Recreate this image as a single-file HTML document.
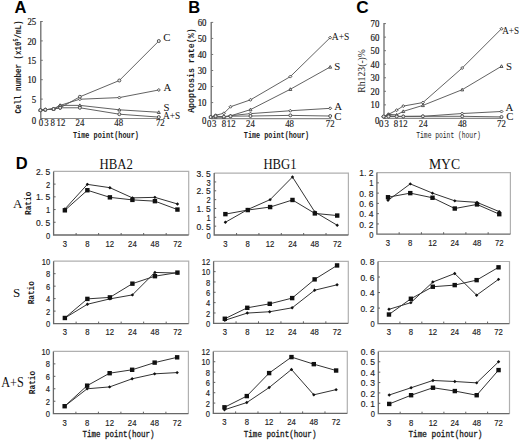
<!DOCTYPE html><html><head><meta charset="utf-8"><style>html,body{margin:0;padding:0;background:#fff;overflow:hidden}svg{display:block}</style></head><body>
<svg width="520" height="441" viewBox="0 0 520 441">
<rect width="520" height="441" fill="#fff"/>
<text x="14.40" y="12.90" font-size="16.5" font-family='"Liberation Sans", sans-serif' font-weight="bold" text-anchor="start" fill="#000" >A</text>
<line x1="40.8" y1="21.0" x2="40.8" y2="119.0" stroke="#6a6a6a" stroke-width="1.3"/>
<line x1="40.8" y1="118.5" x2="159.8" y2="118.5" stroke="#8a8a8a" stroke-width="1.1"/>
<line x1="40.8" y1="118.50" x2="42.8" y2="118.50" stroke="#6a6a6a" stroke-width="0.9"/>
<text x="36.20" y="123.70" font-size="9.8" font-family='"Liberation Serif", serif' font-weight="normal" text-anchor="end" fill="#1a1a1a" textLength="4.4" lengthAdjust="spacingAndGlyphs" stroke="#1a1a1a" stroke-width="0.2">0</text>
<line x1="40.8" y1="99.10" x2="42.8" y2="99.10" stroke="#6a6a6a" stroke-width="0.9"/>
<text x="36.20" y="102.70" font-size="9.8" font-family='"Liberation Serif", serif' font-weight="normal" text-anchor="end" fill="#1a1a1a" textLength="4.4" lengthAdjust="spacingAndGlyphs" stroke="#1a1a1a" stroke-width="0.2">5</text>
<line x1="40.8" y1="79.70" x2="42.8" y2="79.70" stroke="#6a6a6a" stroke-width="0.9"/>
<text x="36.20" y="83.30" font-size="9.8" font-family='"Liberation Serif", serif' font-weight="normal" text-anchor="end" fill="#1a1a1a" textLength="8.8" lengthAdjust="spacingAndGlyphs" stroke="#1a1a1a" stroke-width="0.2">10</text>
<line x1="40.8" y1="60.30" x2="42.8" y2="60.30" stroke="#6a6a6a" stroke-width="0.9"/>
<text x="36.20" y="63.90" font-size="9.8" font-family='"Liberation Serif", serif' font-weight="normal" text-anchor="end" fill="#1a1a1a" textLength="8.8" lengthAdjust="spacingAndGlyphs" stroke="#1a1a1a" stroke-width="0.2">15</text>
<line x1="40.8" y1="40.90" x2="42.8" y2="40.90" stroke="#6a6a6a" stroke-width="0.9"/>
<text x="36.20" y="44.50" font-size="9.8" font-family='"Liberation Serif", serif' font-weight="normal" text-anchor="end" fill="#1a1a1a" textLength="8.8" lengthAdjust="spacingAndGlyphs" stroke="#1a1a1a" stroke-width="0.2">20</text>
<line x1="40.8" y1="21.50" x2="42.8" y2="21.50" stroke="#6a6a6a" stroke-width="0.9"/>
<text x="36.20" y="25.10" font-size="9.8" font-family='"Liberation Serif", serif' font-weight="normal" text-anchor="end" fill="#1a1a1a" textLength="8.8" lengthAdjust="spacingAndGlyphs" stroke="#1a1a1a" stroke-width="0.2">25</text>
<text x="41.00" y="126.40" font-size="10" font-family='"Liberation Serif", serif' font-weight="normal" text-anchor="middle" fill="#1a1a1a" textLength="4.4" lengthAdjust="spacingAndGlyphs" stroke="#1a1a1a" stroke-width="0.15">0</text>
<text x="46.50" y="126.40" font-size="10" font-family='"Liberation Serif", serif' font-weight="normal" text-anchor="middle" fill="#1a1a1a" textLength="4.4" lengthAdjust="spacingAndGlyphs" stroke="#1a1a1a" stroke-width="0.15">3</text>
<text x="52.80" y="126.40" font-size="10" font-family='"Liberation Serif", serif' font-weight="normal" text-anchor="middle" fill="#1a1a1a" textLength="4.4" lengthAdjust="spacingAndGlyphs" stroke="#1a1a1a" stroke-width="0.15">8</text>
<text x="60.90" y="126.40" font-size="10" font-family='"Liberation Serif", serif' font-weight="normal" text-anchor="middle" fill="#1a1a1a" textLength="8.8" lengthAdjust="spacingAndGlyphs" stroke="#1a1a1a" stroke-width="0.15">12</text>
<text x="79.90" y="126.40" font-size="10" font-family='"Liberation Serif", serif' font-weight="normal" text-anchor="middle" fill="#1a1a1a" textLength="8.8" lengthAdjust="spacingAndGlyphs" stroke="#1a1a1a" stroke-width="0.15">24</text>
<text x="118.70" y="126.40" font-size="10" font-family='"Liberation Serif", serif' font-weight="normal" text-anchor="middle" fill="#1a1a1a" textLength="8.8" lengthAdjust="spacingAndGlyphs" stroke="#1a1a1a" stroke-width="0.15">48</text>
<text x="160.30" y="126.40" font-size="10" font-family='"Liberation Serif", serif' font-weight="normal" text-anchor="middle" fill="#1a1a1a" textLength="8.8" lengthAdjust="spacingAndGlyphs" stroke="#1a1a1a" stroke-width="0.15">72</text>
<path d="M40.40 110.20L45.33 109.69L53.56 108.99L60.13 107.79L79.87 96.81L119.33 80.51L158.80 41.02" fill="none" stroke="#5a5a5a" stroke-width="0.95"/>
<circle cx="40.40" cy="110.20" r="1.5" fill="#e8e8e8" stroke="#444" stroke-width="0.9"/>
<circle cx="45.33" cy="109.69" r="1.5" fill="#e8e8e8" stroke="#444" stroke-width="0.9"/>
<circle cx="53.56" cy="108.99" r="1.5" fill="#e8e8e8" stroke="#444" stroke-width="0.9"/>
<circle cx="60.13" cy="107.79" r="1.5" fill="#e8e8e8" stroke="#444" stroke-width="0.9"/>
<circle cx="79.87" cy="96.81" r="1.5" fill="#e8e8e8" stroke="#444" stroke-width="0.9"/>
<circle cx="119.33" cy="80.51" r="1.5" fill="#e8e8e8" stroke="#444" stroke-width="0.9"/>
<circle cx="158.80" cy="41.02" r="1.5" fill="#e8e8e8" stroke="#444" stroke-width="0.9"/>
<path d="M40.40 110.20L45.33 109.69L53.56 108.99L60.13 105.39L79.87 99.22L119.33 97.59L158.80 89.98" fill="none" stroke="#5a5a5a" stroke-width="0.95"/>
<path d="M40.40 108.70L41.90 110.20L40.40 111.70L38.90 110.20Z" fill="#e8e8e8" stroke="#444" stroke-width="0.9"/>
<path d="M45.33 108.19L46.83 109.69L45.33 111.19L43.83 109.69Z" fill="#e8e8e8" stroke="#444" stroke-width="0.9"/>
<path d="M53.56 107.49L55.06 108.99L53.56 110.49L52.06 108.99Z" fill="#e8e8e8" stroke="#444" stroke-width="0.9"/>
<path d="M60.13 103.89L61.63 105.39L60.13 106.89L58.63 105.39Z" fill="#e8e8e8" stroke="#444" stroke-width="0.9"/>
<path d="M79.87 97.72L81.37 99.22L79.87 100.72L78.37 99.22Z" fill="#e8e8e8" stroke="#444" stroke-width="0.9"/>
<path d="M119.33 96.09L120.83 97.59L119.33 99.09L117.83 97.59Z" fill="#e8e8e8" stroke="#444" stroke-width="0.9"/>
<path d="M158.80 88.48L160.30 89.98L158.80 91.48L157.30 89.98Z" fill="#e8e8e8" stroke="#444" stroke-width="0.9"/>
<path d="M40.40 110.20L45.33 109.69L53.56 108.99L60.13 105.39L79.87 105.39L119.33 109.81L158.80 112.29" fill="none" stroke="#5a5a5a" stroke-width="0.95"/>
<path d="M40.40 108.70L41.90 111.40L38.90 111.40Z" fill="#e8e8e8" stroke="#444" stroke-width="0.9"/>
<path d="M45.33 108.19L46.83 110.89L43.83 110.89Z" fill="#e8e8e8" stroke="#444" stroke-width="0.9"/>
<path d="M53.56 107.49L55.06 110.19L52.06 110.19Z" fill="#e8e8e8" stroke="#444" stroke-width="0.9"/>
<path d="M60.13 103.89L61.63 106.59L58.63 106.59Z" fill="#e8e8e8" stroke="#444" stroke-width="0.9"/>
<path d="M79.87 103.89L81.37 106.59L78.37 106.59Z" fill="#e8e8e8" stroke="#444" stroke-width="0.9"/>
<path d="M119.33 108.31L120.83 111.01L117.83 111.01Z" fill="#e8e8e8" stroke="#444" stroke-width="0.9"/>
<path d="M158.80 110.79L160.30 113.49L157.30 113.49Z" fill="#e8e8e8" stroke="#444" stroke-width="0.9"/>
<path d="M40.40 110.20L45.33 109.69L53.56 108.99L60.13 107.79L79.87 107.79L119.33 114.19L158.80 117.10" fill="none" stroke="#5a5a5a" stroke-width="0.95"/>
<circle cx="40.40" cy="110.20" r="1.5" fill="#e8e8e8" stroke="#444" stroke-width="0.9"/>
<circle cx="45.33" cy="109.69" r="1.5" fill="#e8e8e8" stroke="#444" stroke-width="0.9"/>
<circle cx="53.56" cy="108.99" r="1.5" fill="#e8e8e8" stroke="#444" stroke-width="0.9"/>
<circle cx="60.13" cy="107.79" r="1.5" fill="#e8e8e8" stroke="#444" stroke-width="0.9"/>
<circle cx="79.87" cy="107.79" r="1.5" fill="#e8e8e8" stroke="#444" stroke-width="0.9"/>
<circle cx="119.33" cy="114.19" r="1.5" fill="#e8e8e8" stroke="#444" stroke-width="0.9"/>
<circle cx="158.80" cy="117.10" r="1.5" fill="#e8e8e8" stroke="#444" stroke-width="0.9"/>
<text x="163.20" y="40.80" font-size="10.8" font-family='"Liberation Serif", serif' font-weight="normal" text-anchor="start" fill="#111" >C</text>
<text x="163.60" y="91.00" font-size="10.8" font-family='"Liberation Serif", serif' font-weight="normal" text-anchor="start" fill="#111" >A</text>
<text x="163.60" y="110.50" font-size="10.8" font-family='"Liberation Serif", serif' font-weight="normal" text-anchor="start" fill="#111" >S</text>
<text x="163.00" y="119.20" font-size="10.8" font-family='"Liberation Serif", serif' font-weight="normal" text-anchor="start" fill="#111" textLength="17.2" lengthAdjust="spacingAndGlyphs" >A+S</text>
<text x="21.00" y="67.00" font-size="9.8" font-family='"Liberation Mono", monospace' font-weight="bold" text-anchor="middle" fill="#1a1a1a" textLength="93" lengthAdjust="spacingAndGlyphs" transform="rotate(-90 21.00 67.00)" >Cell number (x10<tspan font-size="6.5" dy="-3.2">5</tspan><tspan dy="3.2">/mL)</tspan></text>
<text x="106.00" y="137.60" font-size="8.8" font-family='"Liberation Mono", monospace' font-weight="bold" text-anchor="middle" fill="#1a1a1a" textLength="66" lengthAdjust="spacingAndGlyphs" >Time point(hour)</text>
<text x="188.20" y="12.90" font-size="16.5" font-family='"Liberation Sans", sans-serif' font-weight="bold" text-anchor="start" fill="#000" >B</text>
<line x1="211.2" y1="21.9" x2="211.2" y2="119.1" stroke="#6a6a6a" stroke-width="1.3"/>
<line x1="211.2" y1="118.6" x2="331.2" y2="118.6" stroke="#8a8a8a" stroke-width="1.1"/>
<line x1="211.2" y1="118.60" x2="213.2" y2="118.60" stroke="#6a6a6a" stroke-width="0.9"/>
<text x="206.50" y="123.80" font-size="9.8" font-family='"Liberation Serif", serif' font-weight="normal" text-anchor="end" fill="#1a1a1a" textLength="4.4" lengthAdjust="spacingAndGlyphs" stroke="#1a1a1a" stroke-width="0.2">0</text>
<line x1="211.2" y1="102.57" x2="213.2" y2="102.57" stroke="#6a6a6a" stroke-width="0.9"/>
<text x="206.50" y="106.17" font-size="9.8" font-family='"Liberation Serif", serif' font-weight="normal" text-anchor="end" fill="#1a1a1a" textLength="8.8" lengthAdjust="spacingAndGlyphs" stroke="#1a1a1a" stroke-width="0.2">10</text>
<line x1="211.2" y1="86.53" x2="213.2" y2="86.53" stroke="#6a6a6a" stroke-width="0.9"/>
<text x="206.50" y="90.13" font-size="9.8" font-family='"Liberation Serif", serif' font-weight="normal" text-anchor="end" fill="#1a1a1a" textLength="8.8" lengthAdjust="spacingAndGlyphs" stroke="#1a1a1a" stroke-width="0.2">20</text>
<line x1="211.2" y1="70.50" x2="213.2" y2="70.50" stroke="#6a6a6a" stroke-width="0.9"/>
<text x="206.50" y="74.10" font-size="9.8" font-family='"Liberation Serif", serif' font-weight="normal" text-anchor="end" fill="#1a1a1a" textLength="8.8" lengthAdjust="spacingAndGlyphs" stroke="#1a1a1a" stroke-width="0.2">30</text>
<line x1="211.2" y1="54.47" x2="213.2" y2="54.47" stroke="#6a6a6a" stroke-width="0.9"/>
<text x="206.50" y="58.07" font-size="9.8" font-family='"Liberation Serif", serif' font-weight="normal" text-anchor="end" fill="#1a1a1a" textLength="8.8" lengthAdjust="spacingAndGlyphs" stroke="#1a1a1a" stroke-width="0.2">40</text>
<line x1="211.2" y1="38.43" x2="213.2" y2="38.43" stroke="#6a6a6a" stroke-width="0.9"/>
<text x="206.50" y="42.03" font-size="9.8" font-family='"Liberation Serif", serif' font-weight="normal" text-anchor="end" fill="#1a1a1a" textLength="8.8" lengthAdjust="spacingAndGlyphs" stroke="#1a1a1a" stroke-width="0.2">50</text>
<line x1="211.2" y1="22.40" x2="213.2" y2="22.40" stroke="#6a6a6a" stroke-width="0.9"/>
<text x="206.50" y="26.00" font-size="9.8" font-family='"Liberation Serif", serif' font-weight="normal" text-anchor="end" fill="#1a1a1a" textLength="8.8" lengthAdjust="spacingAndGlyphs" stroke="#1a1a1a" stroke-width="0.2">60</text>
<text x="209.20" y="127.30" font-size="10" font-family='"Liberation Serif", serif' font-weight="normal" text-anchor="middle" fill="#1a1a1a" textLength="4.4" lengthAdjust="spacingAndGlyphs" stroke="#1a1a1a" stroke-width="0.15">0</text>
<text x="214.30" y="127.30" font-size="10" font-family='"Liberation Serif", serif' font-weight="normal" text-anchor="middle" fill="#1a1a1a" textLength="4.4" lengthAdjust="spacingAndGlyphs" stroke="#1a1a1a" stroke-width="0.15">3</text>
<text x="224.00" y="127.30" font-size="10" font-family='"Liberation Serif", serif' font-weight="normal" text-anchor="middle" fill="#1a1a1a" textLength="4.4" lengthAdjust="spacingAndGlyphs" stroke="#1a1a1a" stroke-width="0.15">8</text>
<text x="231.20" y="127.30" font-size="10" font-family='"Liberation Serif", serif' font-weight="normal" text-anchor="middle" fill="#1a1a1a" textLength="8.8" lengthAdjust="spacingAndGlyphs" stroke="#1a1a1a" stroke-width="0.15">12</text>
<text x="250.50" y="127.30" font-size="10" font-family='"Liberation Serif", serif' font-weight="normal" text-anchor="middle" fill="#1a1a1a" textLength="8.8" lengthAdjust="spacingAndGlyphs" stroke="#1a1a1a" stroke-width="0.15">24</text>
<text x="289.60" y="127.30" font-size="10" font-family='"Liberation Serif", serif' font-weight="normal" text-anchor="middle" fill="#1a1a1a" textLength="8.8" lengthAdjust="spacingAndGlyphs" stroke="#1a1a1a" stroke-width="0.15">48</text>
<text x="330.20" y="127.30" font-size="10" font-family='"Liberation Serif", serif' font-weight="normal" text-anchor="middle" fill="#1a1a1a" textLength="8.8" lengthAdjust="spacingAndGlyphs" stroke="#1a1a1a" stroke-width="0.15">72</text>
<path d="M210.60 117.00L215.58 115.23L223.89 113.31L230.53 106.74L250.47 99.84L290.33 76.59L330.20 37.63" fill="none" stroke="#5a5a5a" stroke-width="0.95"/>
<path d="M210.60 115.50L212.10 117.00L210.60 118.50L209.10 117.00Z" fill="#e8e8e8" stroke="#444" stroke-width="0.9"/>
<path d="M215.58 113.73L217.08 115.23L215.58 116.73L214.08 115.23Z" fill="#e8e8e8" stroke="#444" stroke-width="0.9"/>
<path d="M223.89 111.81L225.39 113.31L223.89 114.81L222.39 113.31Z" fill="#e8e8e8" stroke="#444" stroke-width="0.9"/>
<path d="M230.53 105.24L232.03 106.74L230.53 108.24L229.03 106.74Z" fill="#e8e8e8" stroke="#444" stroke-width="0.9"/>
<path d="M250.47 98.34L251.97 99.84L250.47 101.34L248.97 99.84Z" fill="#e8e8e8" stroke="#444" stroke-width="0.9"/>
<path d="M290.33 75.09L291.83 76.59L290.33 78.09L288.83 76.59Z" fill="#e8e8e8" stroke="#444" stroke-width="0.9"/>
<path d="M330.20 36.13L331.70 37.63L330.20 39.13L328.70 37.63Z" fill="#e8e8e8" stroke="#444" stroke-width="0.9"/>
<path d="M210.60 117.00L215.58 117.00L223.89 117.32L230.53 115.87L250.47 109.62L290.33 89.26L330.20 66.97" fill="none" stroke="#5a5a5a" stroke-width="0.95"/>
<path d="M210.60 115.50L212.10 118.20L209.10 118.20Z" fill="#e8e8e8" stroke="#444" stroke-width="0.9"/>
<path d="M215.58 115.50L217.08 118.20L214.08 118.20Z" fill="#e8e8e8" stroke="#444" stroke-width="0.9"/>
<path d="M223.89 115.82L225.39 118.52L222.39 118.52Z" fill="#e8e8e8" stroke="#444" stroke-width="0.9"/>
<path d="M230.53 114.37L232.03 117.07L229.03 117.07Z" fill="#e8e8e8" stroke="#444" stroke-width="0.9"/>
<path d="M250.47 108.12L251.97 110.82L248.97 110.82Z" fill="#e8e8e8" stroke="#444" stroke-width="0.9"/>
<path d="M290.33 87.76L291.83 90.46L288.83 90.46Z" fill="#e8e8e8" stroke="#444" stroke-width="0.9"/>
<path d="M330.20 65.47L331.70 68.17L328.70 68.17Z" fill="#e8e8e8" stroke="#444" stroke-width="0.9"/>
<path d="M210.60 117.00L215.58 116.68L223.89 116.68L230.53 115.71L250.47 113.63L290.33 110.74L330.20 108.34" fill="none" stroke="#5a5a5a" stroke-width="0.95"/>
<path d="M210.60 115.50L212.10 117.00L210.60 118.50L209.10 117.00Z" fill="#e8e8e8" stroke="#444" stroke-width="0.9"/>
<path d="M215.58 115.18L217.08 116.68L215.58 118.18L214.08 116.68Z" fill="#e8e8e8" stroke="#444" stroke-width="0.9"/>
<path d="M223.89 115.18L225.39 116.68L223.89 118.18L222.39 116.68Z" fill="#e8e8e8" stroke="#444" stroke-width="0.9"/>
<path d="M230.53 114.21L232.03 115.71L230.53 117.21L229.03 115.71Z" fill="#e8e8e8" stroke="#444" stroke-width="0.9"/>
<path d="M250.47 112.13L251.97 113.63L250.47 115.13L248.97 113.63Z" fill="#e8e8e8" stroke="#444" stroke-width="0.9"/>
<path d="M290.33 109.24L291.83 110.74L290.33 112.24L288.83 110.74Z" fill="#e8e8e8" stroke="#444" stroke-width="0.9"/>
<path d="M330.20 106.84L331.70 108.34L330.20 109.84L328.70 108.34Z" fill="#e8e8e8" stroke="#444" stroke-width="0.9"/>
<path d="M210.60 117.00L215.58 116.19L223.89 116.68L230.53 116.19L250.47 116.03L290.33 115.39L330.20 116.03" fill="none" stroke="#5a5a5a" stroke-width="0.95"/>
<circle cx="210.60" cy="117.00" r="1.5" fill="#e8e8e8" stroke="#444" stroke-width="0.9"/>
<circle cx="215.58" cy="116.19" r="1.5" fill="#e8e8e8" stroke="#444" stroke-width="0.9"/>
<circle cx="223.89" cy="116.68" r="1.5" fill="#e8e8e8" stroke="#444" stroke-width="0.9"/>
<circle cx="230.53" cy="116.19" r="1.5" fill="#e8e8e8" stroke="#444" stroke-width="0.9"/>
<circle cx="250.47" cy="116.03" r="1.5" fill="#e8e8e8" stroke="#444" stroke-width="0.9"/>
<circle cx="290.33" cy="115.39" r="1.5" fill="#e8e8e8" stroke="#444" stroke-width="0.9"/>
<circle cx="330.20" cy="116.03" r="1.5" fill="#e8e8e8" stroke="#444" stroke-width="0.9"/>
<text x="331.80" y="40.00" font-size="10.8" font-family='"Liberation Serif", serif' font-weight="normal" text-anchor="start" fill="#111" textLength="17.6" lengthAdjust="spacingAndGlyphs" >A+S</text>
<text x="334.20" y="69.50" font-size="10.8" font-family='"Liberation Serif", serif' font-weight="normal" text-anchor="start" fill="#111" >S</text>
<text x="334.20" y="110.20" font-size="10.8" font-family='"Liberation Serif", serif' font-weight="normal" text-anchor="start" fill="#111" >A</text>
<text x="334.20" y="120.20" font-size="10.8" font-family='"Liberation Serif", serif' font-weight="normal" text-anchor="start" fill="#111" >C</text>
<text x="194.00" y="70.60" font-size="9.6" font-family='"Liberation Mono", monospace' font-weight="bold" text-anchor="middle" fill="#1a1a1a" textLength="84.5" lengthAdjust="spacingAndGlyphs" transform="rotate(-90 194.00 70.60)" >Apoptosis rate(%)</text>
<text x="276.50" y="138.20" font-size="8.8" font-family='"Liberation Mono", monospace' font-weight="bold" text-anchor="middle" fill="#1a1a1a" textLength="65.4" lengthAdjust="spacingAndGlyphs" >Time point(hour)</text>
<text x="356.30" y="12.90" font-size="17.2" font-family='"Liberation Sans", sans-serif' font-weight="bold" text-anchor="start" fill="#000" >C</text>
<line x1="384.0" y1="23.1" x2="384.0" y2="118.9" stroke="#6a6a6a" stroke-width="1.3"/>
<line x1="384.0" y1="118.4" x2="502.5" y2="118.4" stroke="#8a8a8a" stroke-width="1.1"/>
<line x1="384.0" y1="118.40" x2="386.0" y2="118.40" stroke="#6a6a6a" stroke-width="0.9"/>
<text x="379.40" y="123.60" font-size="9.8" font-family='"Liberation Serif", serif' font-weight="normal" text-anchor="end" fill="#1a1a1a" textLength="4.4" lengthAdjust="spacingAndGlyphs" stroke="#1a1a1a" stroke-width="0.2">0</text>
<line x1="384.0" y1="104.86" x2="386.0" y2="104.86" stroke="#6a6a6a" stroke-width="0.9"/>
<text x="379.40" y="108.46" font-size="9.8" font-family='"Liberation Serif", serif' font-weight="normal" text-anchor="end" fill="#1a1a1a" textLength="8.8" lengthAdjust="spacingAndGlyphs" stroke="#1a1a1a" stroke-width="0.2">10</text>
<line x1="384.0" y1="91.31" x2="386.0" y2="91.31" stroke="#6a6a6a" stroke-width="0.9"/>
<text x="379.40" y="94.91" font-size="9.8" font-family='"Liberation Serif", serif' font-weight="normal" text-anchor="end" fill="#1a1a1a" textLength="8.8" lengthAdjust="spacingAndGlyphs" stroke="#1a1a1a" stroke-width="0.2">20</text>
<line x1="384.0" y1="77.77" x2="386.0" y2="77.77" stroke="#6a6a6a" stroke-width="0.9"/>
<text x="379.40" y="81.37" font-size="9.8" font-family='"Liberation Serif", serif' font-weight="normal" text-anchor="end" fill="#1a1a1a" textLength="8.8" lengthAdjust="spacingAndGlyphs" stroke="#1a1a1a" stroke-width="0.2">30</text>
<line x1="384.0" y1="64.23" x2="386.0" y2="64.23" stroke="#6a6a6a" stroke-width="0.9"/>
<text x="379.40" y="67.83" font-size="9.8" font-family='"Liberation Serif", serif' font-weight="normal" text-anchor="end" fill="#1a1a1a" textLength="8.8" lengthAdjust="spacingAndGlyphs" stroke="#1a1a1a" stroke-width="0.2">40</text>
<line x1="384.0" y1="50.69" x2="386.0" y2="50.69" stroke="#6a6a6a" stroke-width="0.9"/>
<text x="379.40" y="54.29" font-size="9.8" font-family='"Liberation Serif", serif' font-weight="normal" text-anchor="end" fill="#1a1a1a" textLength="8.8" lengthAdjust="spacingAndGlyphs" stroke="#1a1a1a" stroke-width="0.2">50</text>
<line x1="384.0" y1="37.14" x2="386.0" y2="37.14" stroke="#6a6a6a" stroke-width="0.9"/>
<text x="379.40" y="40.74" font-size="9.8" font-family='"Liberation Serif", serif' font-weight="normal" text-anchor="end" fill="#1a1a1a" textLength="8.8" lengthAdjust="spacingAndGlyphs" stroke="#1a1a1a" stroke-width="0.2">60</text>
<line x1="384.0" y1="23.60" x2="386.0" y2="23.60" stroke="#6a6a6a" stroke-width="0.9"/>
<text x="379.40" y="27.20" font-size="9.8" font-family='"Liberation Serif", serif' font-weight="normal" text-anchor="end" fill="#1a1a1a" textLength="8.8" lengthAdjust="spacingAndGlyphs" stroke="#1a1a1a" stroke-width="0.2">70</text>
<text x="381.20" y="127.30" font-size="10" font-family='"Liberation Serif", serif' font-weight="normal" text-anchor="middle" fill="#1a1a1a" textLength="4.4" lengthAdjust="spacingAndGlyphs" stroke="#1a1a1a" stroke-width="0.15">0</text>
<text x="386.80" y="127.30" font-size="10" font-family='"Liberation Serif", serif' font-weight="normal" text-anchor="middle" fill="#1a1a1a" textLength="4.4" lengthAdjust="spacingAndGlyphs" stroke="#1a1a1a" stroke-width="0.15">3</text>
<text x="396.00" y="127.30" font-size="10" font-family='"Liberation Serif", serif' font-weight="normal" text-anchor="middle" fill="#1a1a1a" textLength="4.4" lengthAdjust="spacingAndGlyphs" stroke="#1a1a1a" stroke-width="0.15">8</text>
<text x="403.20" y="127.30" font-size="10" font-family='"Liberation Serif", serif' font-weight="normal" text-anchor="middle" fill="#1a1a1a" textLength="8.8" lengthAdjust="spacingAndGlyphs" stroke="#1a1a1a" stroke-width="0.15">12</text>
<text x="423.20" y="127.30" font-size="10" font-family='"Liberation Serif", serif' font-weight="normal" text-anchor="middle" fill="#1a1a1a" textLength="8.8" lengthAdjust="spacingAndGlyphs" stroke="#1a1a1a" stroke-width="0.15">24</text>
<text x="462.30" y="127.30" font-size="10" font-family='"Liberation Serif", serif' font-weight="normal" text-anchor="middle" fill="#1a1a1a" textLength="8.8" lengthAdjust="spacingAndGlyphs" stroke="#1a1a1a" stroke-width="0.15">48</text>
<text x="501.50" y="127.30" font-size="10" font-family='"Liberation Serif", serif' font-weight="normal" text-anchor="middle" fill="#1a1a1a" textLength="8.8" lengthAdjust="spacingAndGlyphs" stroke="#1a1a1a" stroke-width="0.15">72</text>
<path d="M383.60 116.50L388.51 114.34L396.70 110.14L403.25 106.08L422.90 102.55L462.20 68.02L501.50 28.75" fill="none" stroke="#5a5a5a" stroke-width="0.95"/>
<path d="M383.60 115.00L385.10 116.50L383.60 118.00L382.10 116.50Z" fill="#e8e8e8" stroke="#444" stroke-width="0.9"/>
<path d="M388.51 112.84L390.01 114.34L388.51 115.84L387.01 114.34Z" fill="#e8e8e8" stroke="#444" stroke-width="0.9"/>
<path d="M396.70 108.64L398.20 110.14L396.70 111.64L395.20 110.14Z" fill="#e8e8e8" stroke="#444" stroke-width="0.9"/>
<path d="M403.25 104.58L404.75 106.08L403.25 107.58L401.75 106.08Z" fill="#e8e8e8" stroke="#444" stroke-width="0.9"/>
<path d="M422.90 101.05L424.40 102.55L422.90 104.05L421.40 102.55Z" fill="#e8e8e8" stroke="#444" stroke-width="0.9"/>
<path d="M462.20 66.52L463.70 68.02L462.20 69.52L460.70 68.02Z" fill="#e8e8e8" stroke="#444" stroke-width="0.9"/>
<path d="M501.50 27.25L503.00 28.75L501.50 30.25L500.00 28.75Z" fill="#e8e8e8" stroke="#444" stroke-width="0.9"/>
<path d="M383.60 116.50L388.51 114.34L396.70 114.88L403.25 111.36L422.90 105.40L462.20 89.69L501.50 66.26" fill="none" stroke="#5a5a5a" stroke-width="0.95"/>
<path d="M383.60 115.00L385.10 117.70L382.10 117.70Z" fill="#e8e8e8" stroke="#444" stroke-width="0.9"/>
<path d="M388.51 112.84L390.01 115.54L387.01 115.54Z" fill="#e8e8e8" stroke="#444" stroke-width="0.9"/>
<path d="M396.70 113.38L398.20 116.08L395.20 116.08Z" fill="#e8e8e8" stroke="#444" stroke-width="0.9"/>
<path d="M403.25 109.86L404.75 112.56L401.75 112.56Z" fill="#e8e8e8" stroke="#444" stroke-width="0.9"/>
<path d="M422.90 103.90L424.40 106.60L421.40 106.60Z" fill="#e8e8e8" stroke="#444" stroke-width="0.9"/>
<path d="M462.20 88.19L463.70 90.89L460.70 90.89Z" fill="#e8e8e8" stroke="#444" stroke-width="0.9"/>
<path d="M501.50 64.76L503.00 67.46L500.00 67.46Z" fill="#e8e8e8" stroke="#444" stroke-width="0.9"/>
<path d="M383.60 116.50L388.51 115.69L396.70 116.30L403.25 116.30L422.90 116.30L462.20 113.52L501.50 111.49" fill="none" stroke="#5a5a5a" stroke-width="0.95"/>
<path d="M383.60 115.00L385.10 116.50L383.60 118.00L382.10 116.50Z" fill="#e8e8e8" stroke="#444" stroke-width="0.9"/>
<path d="M388.51 114.19L390.01 115.69L388.51 117.19L387.01 115.69Z" fill="#e8e8e8" stroke="#444" stroke-width="0.9"/>
<path d="M396.70 114.80L398.20 116.30L396.70 117.80L395.20 116.30Z" fill="#e8e8e8" stroke="#444" stroke-width="0.9"/>
<path d="M403.25 114.80L404.75 116.30L403.25 117.80L401.75 116.30Z" fill="#e8e8e8" stroke="#444" stroke-width="0.9"/>
<path d="M422.90 114.80L424.40 116.30L422.90 117.80L421.40 116.30Z" fill="#e8e8e8" stroke="#444" stroke-width="0.9"/>
<path d="M462.20 112.02L463.70 113.52L462.20 115.02L460.70 113.52Z" fill="#e8e8e8" stroke="#444" stroke-width="0.9"/>
<path d="M501.50 109.99L503.00 111.49L501.50 112.99L500.00 111.49Z" fill="#e8e8e8" stroke="#444" stroke-width="0.9"/>
<path d="M383.60 116.50L388.51 116.50L396.70 116.50L403.25 116.50L422.90 116.30L462.20 116.30L501.50 116.91" fill="none" stroke="#5a5a5a" stroke-width="0.95"/>
<circle cx="383.60" cy="116.50" r="1.5" fill="#e8e8e8" stroke="#444" stroke-width="0.9"/>
<circle cx="388.51" cy="116.50" r="1.5" fill="#e8e8e8" stroke="#444" stroke-width="0.9"/>
<circle cx="396.70" cy="116.50" r="1.5" fill="#e8e8e8" stroke="#444" stroke-width="0.9"/>
<circle cx="403.25" cy="116.50" r="1.5" fill="#e8e8e8" stroke="#444" stroke-width="0.9"/>
<circle cx="422.90" cy="116.30" r="1.5" fill="#e8e8e8" stroke="#444" stroke-width="0.9"/>
<circle cx="462.20" cy="116.30" r="1.5" fill="#e8e8e8" stroke="#444" stroke-width="0.9"/>
<circle cx="501.50" cy="116.91" r="1.5" fill="#e8e8e8" stroke="#444" stroke-width="0.9"/>
<text x="502.20" y="34.00" font-size="10.8" font-family='"Liberation Serif", serif' font-weight="normal" text-anchor="start" fill="#111" textLength="16.8" lengthAdjust="spacingAndGlyphs" >A+S</text>
<text x="506.00" y="69.80" font-size="10.8" font-family='"Liberation Serif", serif' font-weight="normal" text-anchor="start" fill="#111" >S</text>
<text x="505.60" y="111.20" font-size="10.8" font-family='"Liberation Serif", serif' font-weight="normal" text-anchor="start" fill="#111" >A</text>
<text x="506.20" y="119.60" font-size="10.8" font-family='"Liberation Serif", serif' font-weight="normal" text-anchor="start" fill="#111" >C</text>
<text x="365.40" y="70.90" font-size="10" font-family='"Liberation Serif", serif' font-weight="normal" text-anchor="middle" fill="#1a1a1a" textLength="43.7" lengthAdjust="spacingAndGlyphs" transform="rotate(-90 365.40 70.90)" >Rh123(-)%</text>
<text x="448.50" y="138.20" font-size="8.8" font-family='"Liberation Mono", monospace' font-weight="normal" text-anchor="middle" fill="#1a1a1a" textLength="64.5" lengthAdjust="spacingAndGlyphs" >Time point (hour)</text>
<text x="15.80" y="168.80" font-size="16.5" font-family='"Liberation Sans", sans-serif' font-weight="bold" text-anchor="start" fill="#000" >D</text>
<path d="M53.6 171.4H188.7V235.0" fill="none" stroke="#b0b0b0" stroke-width="1.2"/>
<path d="M53.6 171.4V235.0H188.7" fill="none" stroke="#686868" stroke-width="1.3"/>
<text x="50.20" y="238.60" font-size="8.4" font-family='"Liberation Sans", sans-serif' font-weight="normal" text-anchor="end" fill="#1a1a1a" textLength="4.2" lengthAdjust="spacingAndGlyphs" stroke="#1a1a1a" stroke-width="0.15">0</text>
<line x1="53.6" y1="222.28" x2="55.6" y2="222.28" stroke="#606060" stroke-width="1"/>
<text x="50.20" y="225.88" font-size="8.4" font-family='"Liberation Sans", sans-serif' font-weight="normal" text-anchor="end" fill="#1a1a1a" textLength="14.2" lengthAdjust="spacingAndGlyphs" stroke="#1a1a1a" stroke-width="0.15">0. 5</text>
<line x1="53.6" y1="209.56" x2="55.6" y2="209.56" stroke="#606060" stroke-width="1"/>
<text x="50.20" y="213.16" font-size="8.4" font-family='"Liberation Sans", sans-serif' font-weight="normal" text-anchor="end" fill="#1a1a1a" textLength="4.2" lengthAdjust="spacingAndGlyphs" stroke="#1a1a1a" stroke-width="0.15">1</text>
<line x1="53.6" y1="196.84" x2="55.6" y2="196.84" stroke="#606060" stroke-width="1"/>
<text x="50.20" y="200.44" font-size="8.4" font-family='"Liberation Sans", sans-serif' font-weight="normal" text-anchor="end" fill="#1a1a1a" textLength="14.2" lengthAdjust="spacingAndGlyphs" stroke="#1a1a1a" stroke-width="0.15">1. 5</text>
<line x1="53.6" y1="184.12" x2="55.6" y2="184.12" stroke="#606060" stroke-width="1"/>
<text x="50.20" y="187.72" font-size="8.4" font-family='"Liberation Sans", sans-serif' font-weight="normal" text-anchor="end" fill="#1a1a1a" textLength="4.2" lengthAdjust="spacingAndGlyphs" stroke="#1a1a1a" stroke-width="0.15">2</text>
<text x="50.20" y="175.00" font-size="8.4" font-family='"Liberation Sans", sans-serif' font-weight="normal" text-anchor="end" fill="#1a1a1a" textLength="14.2" lengthAdjust="spacingAndGlyphs" stroke="#1a1a1a" stroke-width="0.15">2. 5</text>
<line x1="76.12" y1="235.0" x2="76.12" y2="233.0" stroke="#606060" stroke-width="1"/>
<line x1="98.63" y1="235.0" x2="98.63" y2="233.0" stroke="#606060" stroke-width="1"/>
<line x1="121.15" y1="235.0" x2="121.15" y2="233.0" stroke="#606060" stroke-width="1"/>
<line x1="143.67" y1="235.0" x2="143.67" y2="233.0" stroke="#606060" stroke-width="1"/>
<line x1="166.18" y1="235.0" x2="166.18" y2="233.0" stroke="#606060" stroke-width="1"/>
<text x="64.86" y="246.80" font-size="8.4" font-family='"Liberation Sans", sans-serif' font-weight="normal" text-anchor="middle" fill="#1a1a1a" textLength="4.3" lengthAdjust="spacingAndGlyphs" stroke="#1a1a1a" stroke-width="0.15">3</text>
<text x="87.38" y="246.80" font-size="8.4" font-family='"Liberation Sans", sans-serif' font-weight="normal" text-anchor="middle" fill="#1a1a1a" textLength="4.3" lengthAdjust="spacingAndGlyphs" stroke="#1a1a1a" stroke-width="0.15">8</text>
<text x="109.89" y="246.80" font-size="8.4" font-family='"Liberation Sans", sans-serif' font-weight="normal" text-anchor="middle" fill="#1a1a1a" textLength="8.6" lengthAdjust="spacingAndGlyphs" stroke="#1a1a1a" stroke-width="0.15">12</text>
<text x="132.41" y="246.80" font-size="8.4" font-family='"Liberation Sans", sans-serif' font-weight="normal" text-anchor="middle" fill="#1a1a1a" textLength="8.6" lengthAdjust="spacingAndGlyphs" stroke="#1a1a1a" stroke-width="0.15">24</text>
<text x="154.92" y="246.80" font-size="8.4" font-family='"Liberation Sans", sans-serif' font-weight="normal" text-anchor="middle" fill="#1a1a1a" textLength="8.6" lengthAdjust="spacingAndGlyphs" stroke="#1a1a1a" stroke-width="0.15">48</text>
<text x="177.44" y="246.80" font-size="8.4" font-family='"Liberation Sans", sans-serif' font-weight="normal" text-anchor="middle" fill="#1a1a1a" textLength="8.6" lengthAdjust="spacingAndGlyphs" stroke="#1a1a1a" stroke-width="0.15">72</text>
<path d="M64.86 209.05L87.38 184.37L109.89 187.68L132.41 197.86L154.92 197.35L177.44 203.96" fill="none" stroke="#333" stroke-width="1"/>
<path d="M64.86 207.35L66.56 209.05L64.86 210.75L63.16 209.05Z" fill="#111"/>
<path d="M87.38 182.67L89.08 184.37L87.38 186.07L85.67 184.37Z" fill="#111"/>
<path d="M109.89 185.98L111.59 187.68L109.89 189.38L108.19 187.68Z" fill="#111"/>
<path d="M132.41 196.16L134.11 197.86L132.41 199.56L130.71 197.86Z" fill="#111"/>
<path d="M154.92 195.65L156.62 197.35L154.92 199.05L153.22 197.35Z" fill="#111"/>
<path d="M177.44 202.26L179.14 203.96L177.44 205.66L175.74 203.96Z" fill="#111"/>
<path d="M64.86 210.32L87.38 190.23L109.89 197.35L132.41 199.89L154.92 201.16L177.44 209.56" fill="none" stroke="#333" stroke-width="1"/>
<rect x="62.66" y="208.12" width="4.4" height="4.4" fill="#111"/>
<rect x="85.17" y="188.03" width="4.4" height="4.4" fill="#111"/>
<rect x="107.69" y="195.15" width="4.4" height="4.4" fill="#111"/>
<rect x="130.21" y="197.69" width="4.4" height="4.4" fill="#111"/>
<rect x="152.72" y="198.96" width="4.4" height="4.4" fill="#111"/>
<rect x="175.24" y="207.36" width="4.4" height="4.4" fill="#111"/>
<text x="116.30" y="168.60" font-size="13.6" font-family='"Liberation Serif", serif' font-weight="normal" text-anchor="middle" fill="#111" textLength="33.4" lengthAdjust="spacingAndGlyphs" >HBA2</text>
<text x="30.60" y="203.30" font-size="8.4" font-family='"Liberation Mono", monospace' font-weight="bold" text-anchor="middle" fill="#1a1a1a" textLength="23.3" lengthAdjust="spacingAndGlyphs" transform="rotate(-90 30.60 203.30)" >Ratio</text>
<path d="M214.2 173.1H348.4V235.0" fill="none" stroke="#b0b0b0" stroke-width="1.2"/>
<path d="M214.2 173.1V235.0H348.4" fill="none" stroke="#686868" stroke-width="1.3"/>
<text x="210.80" y="238.60" font-size="8.4" font-family='"Liberation Sans", sans-serif' font-weight="normal" text-anchor="end" fill="#1a1a1a" textLength="4.2" lengthAdjust="spacingAndGlyphs" stroke="#1a1a1a" stroke-width="0.15">0</text>
<line x1="214.2" y1="226.16" x2="216.2" y2="226.16" stroke="#606060" stroke-width="1"/>
<text x="210.80" y="229.76" font-size="8.4" font-family='"Liberation Sans", sans-serif' font-weight="normal" text-anchor="end" fill="#1a1a1a" textLength="14.2" lengthAdjust="spacingAndGlyphs" stroke="#1a1a1a" stroke-width="0.15">0. 5</text>
<line x1="214.2" y1="217.31" x2="216.2" y2="217.31" stroke="#606060" stroke-width="1"/>
<text x="210.80" y="220.91" font-size="8.4" font-family='"Liberation Sans", sans-serif' font-weight="normal" text-anchor="end" fill="#1a1a1a" textLength="4.2" lengthAdjust="spacingAndGlyphs" stroke="#1a1a1a" stroke-width="0.15">1</text>
<line x1="214.2" y1="208.47" x2="216.2" y2="208.47" stroke="#606060" stroke-width="1"/>
<text x="210.80" y="212.07" font-size="8.4" font-family='"Liberation Sans", sans-serif' font-weight="normal" text-anchor="end" fill="#1a1a1a" textLength="14.2" lengthAdjust="spacingAndGlyphs" stroke="#1a1a1a" stroke-width="0.15">1. 5</text>
<line x1="214.2" y1="199.63" x2="216.2" y2="199.63" stroke="#606060" stroke-width="1"/>
<text x="210.80" y="203.23" font-size="8.4" font-family='"Liberation Sans", sans-serif' font-weight="normal" text-anchor="end" fill="#1a1a1a" textLength="4.2" lengthAdjust="spacingAndGlyphs" stroke="#1a1a1a" stroke-width="0.15">2</text>
<line x1="214.2" y1="190.79" x2="216.2" y2="190.79" stroke="#606060" stroke-width="1"/>
<text x="210.80" y="194.39" font-size="8.4" font-family='"Liberation Sans", sans-serif' font-weight="normal" text-anchor="end" fill="#1a1a1a" textLength="14.2" lengthAdjust="spacingAndGlyphs" stroke="#1a1a1a" stroke-width="0.15">2. 5</text>
<line x1="214.2" y1="181.94" x2="216.2" y2="181.94" stroke="#606060" stroke-width="1"/>
<text x="210.80" y="185.54" font-size="8.4" font-family='"Liberation Sans", sans-serif' font-weight="normal" text-anchor="end" fill="#1a1a1a" textLength="4.2" lengthAdjust="spacingAndGlyphs" stroke="#1a1a1a" stroke-width="0.15">3</text>
<text x="210.80" y="176.70" font-size="8.4" font-family='"Liberation Sans", sans-serif' font-weight="normal" text-anchor="end" fill="#1a1a1a" textLength="14.2" lengthAdjust="spacingAndGlyphs" stroke="#1a1a1a" stroke-width="0.15">3. 5</text>
<line x1="236.57" y1="235.0" x2="236.57" y2="233.0" stroke="#606060" stroke-width="1"/>
<line x1="258.93" y1="235.0" x2="258.93" y2="233.0" stroke="#606060" stroke-width="1"/>
<line x1="281.30" y1="235.0" x2="281.30" y2="233.0" stroke="#606060" stroke-width="1"/>
<line x1="303.67" y1="235.0" x2="303.67" y2="233.0" stroke="#606060" stroke-width="1"/>
<line x1="326.03" y1="235.0" x2="326.03" y2="233.0" stroke="#606060" stroke-width="1"/>
<text x="225.38" y="246.80" font-size="8.4" font-family='"Liberation Sans", sans-serif' font-weight="normal" text-anchor="middle" fill="#1a1a1a" textLength="4.3" lengthAdjust="spacingAndGlyphs" stroke="#1a1a1a" stroke-width="0.15">3</text>
<text x="247.75" y="246.80" font-size="8.4" font-family='"Liberation Sans", sans-serif' font-weight="normal" text-anchor="middle" fill="#1a1a1a" textLength="4.3" lengthAdjust="spacingAndGlyphs" stroke="#1a1a1a" stroke-width="0.15">8</text>
<text x="270.12" y="246.80" font-size="8.4" font-family='"Liberation Sans", sans-serif' font-weight="normal" text-anchor="middle" fill="#1a1a1a" textLength="8.6" lengthAdjust="spacingAndGlyphs" stroke="#1a1a1a" stroke-width="0.15">12</text>
<text x="292.48" y="246.80" font-size="8.4" font-family='"Liberation Sans", sans-serif' font-weight="normal" text-anchor="middle" fill="#1a1a1a" textLength="8.6" lengthAdjust="spacingAndGlyphs" stroke="#1a1a1a" stroke-width="0.15">24</text>
<text x="314.85" y="246.80" font-size="8.4" font-family='"Liberation Sans", sans-serif' font-weight="normal" text-anchor="middle" fill="#1a1a1a" textLength="8.6" lengthAdjust="spacingAndGlyphs" stroke="#1a1a1a" stroke-width="0.15">48</text>
<text x="337.22" y="246.80" font-size="8.4" font-family='"Liberation Sans", sans-serif' font-weight="normal" text-anchor="middle" fill="#1a1a1a" textLength="8.6" lengthAdjust="spacingAndGlyphs" stroke="#1a1a1a" stroke-width="0.15">72</text>
<path d="M225.38 222.27L247.75 209.53L270.12 199.63L292.48 176.99L314.85 212.01L337.22 225.27" fill="none" stroke="#333" stroke-width="1"/>
<path d="M225.38 220.57L227.08 222.27L225.38 223.97L223.68 222.27Z" fill="#111"/>
<path d="M247.75 207.83L249.45 209.53L247.75 211.23L246.05 209.53Z" fill="#111"/>
<path d="M270.12 197.93L271.82 199.63L270.12 201.33L268.42 199.63Z" fill="#111"/>
<path d="M292.48 175.29L294.18 176.99L292.48 178.69L290.78 176.99Z" fill="#111"/>
<path d="M314.85 210.31L316.55 212.01L314.85 213.71L313.15 212.01Z" fill="#111"/>
<path d="M337.22 223.57L338.92 225.27L337.22 226.97L335.52 225.27Z" fill="#111"/>
<path d="M225.38 214.13L247.75 210.06L270.12 207.06L292.48 199.98L314.85 213.42L337.22 215.55" fill="none" stroke="#333" stroke-width="1"/>
<rect x="223.18" y="211.93" width="4.4" height="4.4" fill="#111"/>
<rect x="245.55" y="207.86" width="4.4" height="4.4" fill="#111"/>
<rect x="267.92" y="204.86" width="4.4" height="4.4" fill="#111"/>
<rect x="290.28" y="197.78" width="4.4" height="4.4" fill="#111"/>
<rect x="312.65" y="211.22" width="4.4" height="4.4" fill="#111"/>
<rect x="335.02" y="213.35" width="4.4" height="4.4" fill="#111"/>
<text x="280.00" y="168.60" font-size="13.6" font-family='"Liberation Serif", serif' font-weight="normal" text-anchor="middle" fill="#111" textLength="33.2" lengthAdjust="spacingAndGlyphs" >HBG1</text>
<path d="M376.9 172.6H510.4V234.2" fill="none" stroke="#b0b0b0" stroke-width="1.2"/>
<path d="M376.9 172.6V234.2H510.4" fill="none" stroke="#686868" stroke-width="1.3"/>
<text x="373.50" y="237.80" font-size="8.4" font-family='"Liberation Sans", sans-serif' font-weight="normal" text-anchor="end" fill="#1a1a1a" textLength="4.2" lengthAdjust="spacingAndGlyphs" stroke="#1a1a1a" stroke-width="0.15">0</text>
<line x1="376.9" y1="223.93" x2="378.9" y2="223.93" stroke="#606060" stroke-width="1"/>
<text x="373.50" y="227.53" font-size="8.4" font-family='"Liberation Sans", sans-serif' font-weight="normal" text-anchor="end" fill="#1a1a1a" textLength="14.2" lengthAdjust="spacingAndGlyphs" stroke="#1a1a1a" stroke-width="0.15">0. 2</text>
<line x1="376.9" y1="213.67" x2="378.9" y2="213.67" stroke="#606060" stroke-width="1"/>
<text x="373.50" y="217.27" font-size="8.4" font-family='"Liberation Sans", sans-serif' font-weight="normal" text-anchor="end" fill="#1a1a1a" textLength="14.2" lengthAdjust="spacingAndGlyphs" stroke="#1a1a1a" stroke-width="0.15">0. 4</text>
<line x1="376.9" y1="203.40" x2="378.9" y2="203.40" stroke="#606060" stroke-width="1"/>
<text x="373.50" y="207.00" font-size="8.4" font-family='"Liberation Sans", sans-serif' font-weight="normal" text-anchor="end" fill="#1a1a1a" textLength="14.2" lengthAdjust="spacingAndGlyphs" stroke="#1a1a1a" stroke-width="0.15">0. 6</text>
<line x1="376.9" y1="193.13" x2="378.9" y2="193.13" stroke="#606060" stroke-width="1"/>
<text x="373.50" y="196.73" font-size="8.4" font-family='"Liberation Sans", sans-serif' font-weight="normal" text-anchor="end" fill="#1a1a1a" textLength="14.2" lengthAdjust="spacingAndGlyphs" stroke="#1a1a1a" stroke-width="0.15">0. 8</text>
<line x1="376.9" y1="182.87" x2="378.9" y2="182.87" stroke="#606060" stroke-width="1"/>
<text x="373.50" y="186.47" font-size="8.4" font-family='"Liberation Sans", sans-serif' font-weight="normal" text-anchor="end" fill="#1a1a1a" textLength="4.2" lengthAdjust="spacingAndGlyphs" stroke="#1a1a1a" stroke-width="0.15">1</text>
<text x="373.50" y="176.20" font-size="8.4" font-family='"Liberation Sans", sans-serif' font-weight="normal" text-anchor="end" fill="#1a1a1a" textLength="14.2" lengthAdjust="spacingAndGlyphs" stroke="#1a1a1a" stroke-width="0.15">1. 2</text>
<line x1="399.15" y1="234.2" x2="399.15" y2="232.2" stroke="#606060" stroke-width="1"/>
<line x1="421.40" y1="234.2" x2="421.40" y2="232.2" stroke="#606060" stroke-width="1"/>
<line x1="443.65" y1="234.2" x2="443.65" y2="232.2" stroke="#606060" stroke-width="1"/>
<line x1="465.90" y1="234.2" x2="465.90" y2="232.2" stroke="#606060" stroke-width="1"/>
<line x1="488.15" y1="234.2" x2="488.15" y2="232.2" stroke="#606060" stroke-width="1"/>
<text x="388.02" y="246.00" font-size="8.4" font-family='"Liberation Sans", sans-serif' font-weight="normal" text-anchor="middle" fill="#1a1a1a" textLength="4.3" lengthAdjust="spacingAndGlyphs" stroke="#1a1a1a" stroke-width="0.15">3</text>
<text x="410.27" y="246.00" font-size="8.4" font-family='"Liberation Sans", sans-serif' font-weight="normal" text-anchor="middle" fill="#1a1a1a" textLength="4.3" lengthAdjust="spacingAndGlyphs" stroke="#1a1a1a" stroke-width="0.15">8</text>
<text x="432.52" y="246.00" font-size="8.4" font-family='"Liberation Sans", sans-serif' font-weight="normal" text-anchor="middle" fill="#1a1a1a" textLength="8.6" lengthAdjust="spacingAndGlyphs" stroke="#1a1a1a" stroke-width="0.15">12</text>
<text x="454.77" y="246.00" font-size="8.4" font-family='"Liberation Sans", sans-serif' font-weight="normal" text-anchor="middle" fill="#1a1a1a" textLength="8.6" lengthAdjust="spacingAndGlyphs" stroke="#1a1a1a" stroke-width="0.15">24</text>
<text x="477.02" y="246.00" font-size="8.4" font-family='"Liberation Sans", sans-serif' font-weight="normal" text-anchor="middle" fill="#1a1a1a" textLength="8.6" lengthAdjust="spacingAndGlyphs" stroke="#1a1a1a" stroke-width="0.15">48</text>
<text x="499.27" y="246.00" font-size="8.4" font-family='"Liberation Sans", sans-serif' font-weight="normal" text-anchor="middle" fill="#1a1a1a" textLength="8.6" lengthAdjust="spacingAndGlyphs" stroke="#1a1a1a" stroke-width="0.15">72</text>
<path d="M388.02 200.32L410.27 183.89L432.52 193.13L454.77 200.83L477.02 202.37L499.27 211.61" fill="none" stroke="#333" stroke-width="1"/>
<path d="M388.02 198.62L389.72 200.32L388.02 202.02L386.32 200.32Z" fill="#111"/>
<path d="M410.27 182.19L411.97 183.89L410.27 185.59L408.57 183.89Z" fill="#111"/>
<path d="M432.52 191.43L434.22 193.13L432.52 194.83L430.82 193.13Z" fill="#111"/>
<path d="M454.77 199.13L456.47 200.83L454.77 202.53L453.07 200.83Z" fill="#111"/>
<path d="M477.02 200.67L478.72 202.37L477.02 204.07L475.32 202.37Z" fill="#111"/>
<path d="M499.27 209.91L500.97 211.61L499.27 213.31L497.57 211.61Z" fill="#111"/>
<path d="M388.02 197.24L410.27 193.13L432.52 197.75L454.77 208.53L477.02 204.43L499.27 214.18" fill="none" stroke="#333" stroke-width="1"/>
<rect x="385.82" y="195.04" width="4.4" height="4.4" fill="#111"/>
<rect x="408.07" y="190.93" width="4.4" height="4.4" fill="#111"/>
<rect x="430.32" y="195.55" width="4.4" height="4.4" fill="#111"/>
<rect x="452.57" y="206.33" width="4.4" height="4.4" fill="#111"/>
<rect x="474.82" y="202.23" width="4.4" height="4.4" fill="#111"/>
<rect x="497.07" y="211.98" width="4.4" height="4.4" fill="#111"/>
<text x="444.50" y="168.60" font-size="13.6" font-family='"Liberation Serif", serif' font-weight="normal" text-anchor="middle" fill="#111" textLength="31.2" lengthAdjust="spacingAndGlyphs" >MYC</text>
<path d="M53.6 261.2H188.7V323.6" fill="none" stroke="#b0b0b0" stroke-width="1.2"/>
<path d="M53.6 261.2V323.6H188.7" fill="none" stroke="#686868" stroke-width="1.3"/>
<text x="50.20" y="327.20" font-size="8.4" font-family='"Liberation Sans", sans-serif' font-weight="normal" text-anchor="end" fill="#1a1a1a" textLength="4.2" lengthAdjust="spacingAndGlyphs" stroke="#1a1a1a" stroke-width="0.15">0</text>
<line x1="53.6" y1="311.12" x2="55.6" y2="311.12" stroke="#606060" stroke-width="1"/>
<text x="50.20" y="314.72" font-size="8.4" font-family='"Liberation Sans", sans-serif' font-weight="normal" text-anchor="end" fill="#1a1a1a" textLength="4.2" lengthAdjust="spacingAndGlyphs" stroke="#1a1a1a" stroke-width="0.15">2</text>
<line x1="53.6" y1="298.64" x2="55.6" y2="298.64" stroke="#606060" stroke-width="1"/>
<text x="50.20" y="302.24" font-size="8.4" font-family='"Liberation Sans", sans-serif' font-weight="normal" text-anchor="end" fill="#1a1a1a" textLength="4.2" lengthAdjust="spacingAndGlyphs" stroke="#1a1a1a" stroke-width="0.15">4</text>
<line x1="53.6" y1="286.16" x2="55.6" y2="286.16" stroke="#606060" stroke-width="1"/>
<text x="50.20" y="289.76" font-size="8.4" font-family='"Liberation Sans", sans-serif' font-weight="normal" text-anchor="end" fill="#1a1a1a" textLength="4.2" lengthAdjust="spacingAndGlyphs" stroke="#1a1a1a" stroke-width="0.15">6</text>
<line x1="53.6" y1="273.68" x2="55.6" y2="273.68" stroke="#606060" stroke-width="1"/>
<text x="50.20" y="277.28" font-size="8.4" font-family='"Liberation Sans", sans-serif' font-weight="normal" text-anchor="end" fill="#1a1a1a" textLength="4.2" lengthAdjust="spacingAndGlyphs" stroke="#1a1a1a" stroke-width="0.15">8</text>
<text x="50.20" y="264.80" font-size="8.4" font-family='"Liberation Sans", sans-serif' font-weight="normal" text-anchor="end" fill="#1a1a1a" textLength="8.4" lengthAdjust="spacingAndGlyphs" stroke="#1a1a1a" stroke-width="0.15">10</text>
<line x1="76.12" y1="323.6" x2="76.12" y2="321.6" stroke="#606060" stroke-width="1"/>
<line x1="98.63" y1="323.6" x2="98.63" y2="321.6" stroke="#606060" stroke-width="1"/>
<line x1="121.15" y1="323.6" x2="121.15" y2="321.6" stroke="#606060" stroke-width="1"/>
<line x1="143.67" y1="323.6" x2="143.67" y2="321.6" stroke="#606060" stroke-width="1"/>
<line x1="166.18" y1="323.6" x2="166.18" y2="321.6" stroke="#606060" stroke-width="1"/>
<text x="64.86" y="335.40" font-size="8.4" font-family='"Liberation Sans", sans-serif' font-weight="normal" text-anchor="middle" fill="#1a1a1a" textLength="4.3" lengthAdjust="spacingAndGlyphs" stroke="#1a1a1a" stroke-width="0.15">3</text>
<text x="87.38" y="335.40" font-size="8.4" font-family='"Liberation Sans", sans-serif' font-weight="normal" text-anchor="middle" fill="#1a1a1a" textLength="4.3" lengthAdjust="spacingAndGlyphs" stroke="#1a1a1a" stroke-width="0.15">8</text>
<text x="109.89" y="335.40" font-size="8.4" font-family='"Liberation Sans", sans-serif' font-weight="normal" text-anchor="middle" fill="#1a1a1a" textLength="8.6" lengthAdjust="spacingAndGlyphs" stroke="#1a1a1a" stroke-width="0.15">12</text>
<text x="132.41" y="335.40" font-size="8.4" font-family='"Liberation Sans", sans-serif' font-weight="normal" text-anchor="middle" fill="#1a1a1a" textLength="8.6" lengthAdjust="spacingAndGlyphs" stroke="#1a1a1a" stroke-width="0.15">24</text>
<text x="154.92" y="335.40" font-size="8.4" font-family='"Liberation Sans", sans-serif' font-weight="normal" text-anchor="middle" fill="#1a1a1a" textLength="8.6" lengthAdjust="spacingAndGlyphs" stroke="#1a1a1a" stroke-width="0.15">48</text>
<text x="177.44" y="335.40" font-size="8.4" font-family='"Liberation Sans", sans-serif' font-weight="normal" text-anchor="middle" fill="#1a1a1a" textLength="8.6" lengthAdjust="spacingAndGlyphs" stroke="#1a1a1a" stroke-width="0.15">72</text>
<path d="M64.86 317.98L87.38 304.26L109.89 298.89L132.41 294.90L154.92 272.43L177.44 273.06" fill="none" stroke="#333" stroke-width="1"/>
<path d="M64.86 316.28L66.56 317.98L64.86 319.68L63.16 317.98Z" fill="#111"/>
<path d="M87.38 302.56L89.08 304.26L87.38 305.96L85.67 304.26Z" fill="#111"/>
<path d="M109.89 297.19L111.59 298.89L109.89 300.59L108.19 298.89Z" fill="#111"/>
<path d="M132.41 293.20L134.11 294.90L132.41 296.60L130.71 294.90Z" fill="#111"/>
<path d="M154.92 270.73L156.62 272.43L154.92 274.13L153.22 272.43Z" fill="#111"/>
<path d="M177.44 271.36L179.14 273.06L177.44 274.76L175.74 273.06Z" fill="#111"/>
<path d="M64.86 317.98L87.38 298.89L109.89 297.39L132.41 283.66L154.92 276.18L177.44 272.62" fill="none" stroke="#333" stroke-width="1"/>
<rect x="62.66" y="315.78" width="4.4" height="4.4" fill="#111"/>
<rect x="85.17" y="296.69" width="4.4" height="4.4" fill="#111"/>
<rect x="107.69" y="295.19" width="4.4" height="4.4" fill="#111"/>
<rect x="130.21" y="281.46" width="4.4" height="4.4" fill="#111"/>
<rect x="152.72" y="273.98" width="4.4" height="4.4" fill="#111"/>
<rect x="175.24" y="270.42" width="4.4" height="4.4" fill="#111"/>
<text x="33.60" y="292.70" font-size="8.4" font-family='"Liberation Mono", monospace' font-weight="bold" text-anchor="middle" fill="#1a1a1a" textLength="23.3" lengthAdjust="spacingAndGlyphs" transform="rotate(-90 33.60 292.70)" >Ratio</text>
<path d="M213.6 261.3H348.3V323.3" fill="none" stroke="#b0b0b0" stroke-width="1.2"/>
<path d="M213.6 261.3V323.3H348.3" fill="none" stroke="#686868" stroke-width="1.3"/>
<text x="210.20" y="326.90" font-size="8.4" font-family='"Liberation Sans", sans-serif' font-weight="normal" text-anchor="end" fill="#1a1a1a" textLength="4.2" lengthAdjust="spacingAndGlyphs" stroke="#1a1a1a" stroke-width="0.15">0</text>
<line x1="213.6" y1="312.97" x2="215.6" y2="312.97" stroke="#606060" stroke-width="1"/>
<text x="210.20" y="316.57" font-size="8.4" font-family='"Liberation Sans", sans-serif' font-weight="normal" text-anchor="end" fill="#1a1a1a" textLength="4.2" lengthAdjust="spacingAndGlyphs" stroke="#1a1a1a" stroke-width="0.15">2</text>
<line x1="213.6" y1="302.63" x2="215.6" y2="302.63" stroke="#606060" stroke-width="1"/>
<text x="210.20" y="306.23" font-size="8.4" font-family='"Liberation Sans", sans-serif' font-weight="normal" text-anchor="end" fill="#1a1a1a" textLength="4.2" lengthAdjust="spacingAndGlyphs" stroke="#1a1a1a" stroke-width="0.15">4</text>
<line x1="213.6" y1="292.30" x2="215.6" y2="292.30" stroke="#606060" stroke-width="1"/>
<text x="210.20" y="295.90" font-size="8.4" font-family='"Liberation Sans", sans-serif' font-weight="normal" text-anchor="end" fill="#1a1a1a" textLength="4.2" lengthAdjust="spacingAndGlyphs" stroke="#1a1a1a" stroke-width="0.15">6</text>
<line x1="213.6" y1="281.97" x2="215.6" y2="281.97" stroke="#606060" stroke-width="1"/>
<text x="210.20" y="285.57" font-size="8.4" font-family='"Liberation Sans", sans-serif' font-weight="normal" text-anchor="end" fill="#1a1a1a" textLength="4.2" lengthAdjust="spacingAndGlyphs" stroke="#1a1a1a" stroke-width="0.15">8</text>
<line x1="213.6" y1="271.63" x2="215.6" y2="271.63" stroke="#606060" stroke-width="1"/>
<text x="210.20" y="275.23" font-size="8.4" font-family='"Liberation Sans", sans-serif' font-weight="normal" text-anchor="end" fill="#1a1a1a" textLength="8.4" lengthAdjust="spacingAndGlyphs" stroke="#1a1a1a" stroke-width="0.15">10</text>
<text x="210.20" y="264.90" font-size="8.4" font-family='"Liberation Sans", sans-serif' font-weight="normal" text-anchor="end" fill="#1a1a1a" textLength="8.4" lengthAdjust="spacingAndGlyphs" stroke="#1a1a1a" stroke-width="0.15">12</text>
<line x1="236.05" y1="323.3" x2="236.05" y2="321.3" stroke="#606060" stroke-width="1"/>
<line x1="258.50" y1="323.3" x2="258.50" y2="321.3" stroke="#606060" stroke-width="1"/>
<line x1="280.95" y1="323.3" x2="280.95" y2="321.3" stroke="#606060" stroke-width="1"/>
<line x1="303.40" y1="323.3" x2="303.40" y2="321.3" stroke="#606060" stroke-width="1"/>
<line x1="325.85" y1="323.3" x2="325.85" y2="321.3" stroke="#606060" stroke-width="1"/>
<text x="224.82" y="335.10" font-size="8.4" font-family='"Liberation Sans", sans-serif' font-weight="normal" text-anchor="middle" fill="#1a1a1a" textLength="4.3" lengthAdjust="spacingAndGlyphs" stroke="#1a1a1a" stroke-width="0.15">3</text>
<text x="247.28" y="335.10" font-size="8.4" font-family='"Liberation Sans", sans-serif' font-weight="normal" text-anchor="middle" fill="#1a1a1a" textLength="4.3" lengthAdjust="spacingAndGlyphs" stroke="#1a1a1a" stroke-width="0.15">8</text>
<text x="269.73" y="335.10" font-size="8.4" font-family='"Liberation Sans", sans-serif' font-weight="normal" text-anchor="middle" fill="#1a1a1a" textLength="8.6" lengthAdjust="spacingAndGlyphs" stroke="#1a1a1a" stroke-width="0.15">12</text>
<text x="292.18" y="335.10" font-size="8.4" font-family='"Liberation Sans", sans-serif' font-weight="normal" text-anchor="middle" fill="#1a1a1a" textLength="8.6" lengthAdjust="spacingAndGlyphs" stroke="#1a1a1a" stroke-width="0.15">24</text>
<text x="314.62" y="335.10" font-size="8.4" font-family='"Liberation Sans", sans-serif' font-weight="normal" text-anchor="middle" fill="#1a1a1a" textLength="8.6" lengthAdjust="spacingAndGlyphs" stroke="#1a1a1a" stroke-width="0.15">48</text>
<text x="337.08" y="335.10" font-size="8.4" font-family='"Liberation Sans", sans-serif' font-weight="normal" text-anchor="middle" fill="#1a1a1a" textLength="8.6" lengthAdjust="spacingAndGlyphs" stroke="#1a1a1a" stroke-width="0.15">72</text>
<path d="M224.82 320.30L247.28 313.07L269.73 311.73L292.18 307.80L314.62 290.23L337.08 284.81" fill="none" stroke="#333" stroke-width="1"/>
<path d="M224.82 318.60L226.52 320.30L224.82 322.00L223.12 320.30Z" fill="#111"/>
<path d="M247.28 311.37L248.97 313.07L247.28 314.77L245.58 313.07Z" fill="#111"/>
<path d="M269.73 310.03L271.43 311.73L269.73 313.43L268.03 311.73Z" fill="#111"/>
<path d="M292.18 306.10L293.88 307.80L292.18 309.50L290.48 307.80Z" fill="#111"/>
<path d="M314.62 288.53L316.32 290.23L314.62 291.93L312.93 290.23Z" fill="#111"/>
<path d="M337.08 283.11L338.78 284.81L337.08 286.51L335.38 284.81Z" fill="#111"/>
<path d="M224.82 318.75L247.28 307.80L269.73 303.82L292.18 298.09L314.62 279.38L337.08 265.43" fill="none" stroke="#333" stroke-width="1"/>
<rect x="222.62" y="316.55" width="4.4" height="4.4" fill="#111"/>
<rect x="245.08" y="305.60" width="4.4" height="4.4" fill="#111"/>
<rect x="267.53" y="301.62" width="4.4" height="4.4" fill="#111"/>
<rect x="289.98" y="295.89" width="4.4" height="4.4" fill="#111"/>
<rect x="312.43" y="277.18" width="4.4" height="4.4" fill="#111"/>
<rect x="334.88" y="263.23" width="4.4" height="4.4" fill="#111"/>
<path d="M378.0 261.5H509.5V323.6" fill="none" stroke="#b0b0b0" stroke-width="1.2"/>
<path d="M378.0 261.5V323.6H509.5" fill="none" stroke="#686868" stroke-width="1.3"/>
<text x="374.60" y="327.20" font-size="8.4" font-family='"Liberation Sans", sans-serif' font-weight="normal" text-anchor="end" fill="#1a1a1a" textLength="4.2" lengthAdjust="spacingAndGlyphs" stroke="#1a1a1a" stroke-width="0.15">0</text>
<line x1="378.0" y1="308.08" x2="380.0" y2="308.08" stroke="#606060" stroke-width="1"/>
<text x="374.60" y="311.68" font-size="8.4" font-family='"Liberation Sans", sans-serif' font-weight="normal" text-anchor="end" fill="#1a1a1a" textLength="14.2" lengthAdjust="spacingAndGlyphs" stroke="#1a1a1a" stroke-width="0.15">0. 2</text>
<line x1="378.0" y1="292.55" x2="380.0" y2="292.55" stroke="#606060" stroke-width="1"/>
<text x="374.60" y="296.15" font-size="8.4" font-family='"Liberation Sans", sans-serif' font-weight="normal" text-anchor="end" fill="#1a1a1a" textLength="14.2" lengthAdjust="spacingAndGlyphs" stroke="#1a1a1a" stroke-width="0.15">0. 4</text>
<line x1="378.0" y1="277.02" x2="380.0" y2="277.02" stroke="#606060" stroke-width="1"/>
<text x="374.60" y="280.62" font-size="8.4" font-family='"Liberation Sans", sans-serif' font-weight="normal" text-anchor="end" fill="#1a1a1a" textLength="14.2" lengthAdjust="spacingAndGlyphs" stroke="#1a1a1a" stroke-width="0.15">0. 6</text>
<text x="374.60" y="265.10" font-size="8.4" font-family='"Liberation Sans", sans-serif' font-weight="normal" text-anchor="end" fill="#1a1a1a" textLength="14.2" lengthAdjust="spacingAndGlyphs" stroke="#1a1a1a" stroke-width="0.15">0. 8</text>
<line x1="399.92" y1="323.6" x2="399.92" y2="321.6" stroke="#606060" stroke-width="1"/>
<line x1="421.83" y1="323.6" x2="421.83" y2="321.6" stroke="#606060" stroke-width="1"/>
<line x1="443.75" y1="323.6" x2="443.75" y2="321.6" stroke="#606060" stroke-width="1"/>
<line x1="465.67" y1="323.6" x2="465.67" y2="321.6" stroke="#606060" stroke-width="1"/>
<line x1="487.58" y1="323.6" x2="487.58" y2="321.6" stroke="#606060" stroke-width="1"/>
<text x="388.96" y="335.40" font-size="8.4" font-family='"Liberation Sans", sans-serif' font-weight="normal" text-anchor="middle" fill="#1a1a1a" textLength="4.3" lengthAdjust="spacingAndGlyphs" stroke="#1a1a1a" stroke-width="0.15">3</text>
<text x="410.88" y="335.40" font-size="8.4" font-family='"Liberation Sans", sans-serif' font-weight="normal" text-anchor="middle" fill="#1a1a1a" textLength="4.3" lengthAdjust="spacingAndGlyphs" stroke="#1a1a1a" stroke-width="0.15">8</text>
<text x="432.79" y="335.40" font-size="8.4" font-family='"Liberation Sans", sans-serif' font-weight="normal" text-anchor="middle" fill="#1a1a1a" textLength="8.6" lengthAdjust="spacingAndGlyphs" stroke="#1a1a1a" stroke-width="0.15">12</text>
<text x="454.71" y="335.40" font-size="8.4" font-family='"Liberation Sans", sans-serif' font-weight="normal" text-anchor="middle" fill="#1a1a1a" textLength="8.6" lengthAdjust="spacingAndGlyphs" stroke="#1a1a1a" stroke-width="0.15">24</text>
<text x="476.62" y="335.40" font-size="8.4" font-family='"Liberation Sans", sans-serif' font-weight="normal" text-anchor="middle" fill="#1a1a1a" textLength="8.6" lengthAdjust="spacingAndGlyphs" stroke="#1a1a1a" stroke-width="0.15">48</text>
<text x="498.54" y="335.40" font-size="8.4" font-family='"Liberation Sans", sans-serif' font-weight="normal" text-anchor="middle" fill="#1a1a1a" textLength="8.6" lengthAdjust="spacingAndGlyphs" stroke="#1a1a1a" stroke-width="0.15">72</text>
<path d="M388.96 309.32L410.88 302.64L432.79 282.07L454.71 273.53L476.62 295.19L498.54 279.35" fill="none" stroke="#333" stroke-width="1"/>
<path d="M388.96 307.62L390.66 309.32L388.96 311.02L387.26 309.32Z" fill="#111"/>
<path d="M410.88 300.94L412.57 302.64L410.88 304.34L409.18 302.64Z" fill="#111"/>
<path d="M432.79 280.37L434.49 282.07L432.79 283.77L431.09 282.07Z" fill="#111"/>
<path d="M454.71 271.83L456.41 273.53L454.71 275.23L453.01 273.53Z" fill="#111"/>
<path d="M476.62 293.49L478.32 295.19L476.62 296.89L474.93 295.19Z" fill="#111"/>
<path d="M498.54 277.65L500.24 279.35L498.54 281.05L496.84 279.35Z" fill="#111"/>
<path d="M388.96 314.52L410.88 298.76L432.79 286.73L454.71 285.10L476.62 280.13L498.54 267.32" fill="none" stroke="#333" stroke-width="1"/>
<rect x="386.76" y="312.32" width="4.4" height="4.4" fill="#111"/>
<rect x="408.68" y="296.56" width="4.4" height="4.4" fill="#111"/>
<rect x="430.59" y="284.53" width="4.4" height="4.4" fill="#111"/>
<rect x="452.51" y="282.90" width="4.4" height="4.4" fill="#111"/>
<rect x="474.43" y="277.93" width="4.4" height="4.4" fill="#111"/>
<rect x="496.34" y="265.12" width="4.4" height="4.4" fill="#111"/>
<path d="M53.4 351.4H188.4V413.7" fill="none" stroke="#b0b0b0" stroke-width="1.2"/>
<path d="M53.4 351.4V413.7H188.4" fill="none" stroke="#686868" stroke-width="1.3"/>
<text x="50.00" y="417.30" font-size="8.4" font-family='"Liberation Sans", sans-serif' font-weight="normal" text-anchor="end" fill="#1a1a1a" textLength="4.2" lengthAdjust="spacingAndGlyphs" stroke="#1a1a1a" stroke-width="0.15">0</text>
<line x1="53.4" y1="401.24" x2="55.4" y2="401.24" stroke="#606060" stroke-width="1"/>
<text x="50.00" y="404.84" font-size="8.4" font-family='"Liberation Sans", sans-serif' font-weight="normal" text-anchor="end" fill="#1a1a1a" textLength="4.2" lengthAdjust="spacingAndGlyphs" stroke="#1a1a1a" stroke-width="0.15">2</text>
<line x1="53.4" y1="388.78" x2="55.4" y2="388.78" stroke="#606060" stroke-width="1"/>
<text x="50.00" y="392.38" font-size="8.4" font-family='"Liberation Sans", sans-serif' font-weight="normal" text-anchor="end" fill="#1a1a1a" textLength="4.2" lengthAdjust="spacingAndGlyphs" stroke="#1a1a1a" stroke-width="0.15">4</text>
<line x1="53.4" y1="376.32" x2="55.4" y2="376.32" stroke="#606060" stroke-width="1"/>
<text x="50.00" y="379.92" font-size="8.4" font-family='"Liberation Sans", sans-serif' font-weight="normal" text-anchor="end" fill="#1a1a1a" textLength="4.2" lengthAdjust="spacingAndGlyphs" stroke="#1a1a1a" stroke-width="0.15">6</text>
<line x1="53.4" y1="363.86" x2="55.4" y2="363.86" stroke="#606060" stroke-width="1"/>
<text x="50.00" y="367.46" font-size="8.4" font-family='"Liberation Sans", sans-serif' font-weight="normal" text-anchor="end" fill="#1a1a1a" textLength="4.2" lengthAdjust="spacingAndGlyphs" stroke="#1a1a1a" stroke-width="0.15">8</text>
<text x="50.00" y="355.00" font-size="8.4" font-family='"Liberation Sans", sans-serif' font-weight="normal" text-anchor="end" fill="#1a1a1a" textLength="8.4" lengthAdjust="spacingAndGlyphs" stroke="#1a1a1a" stroke-width="0.15">10</text>
<line x1="75.90" y1="413.7" x2="75.90" y2="411.7" stroke="#606060" stroke-width="1"/>
<line x1="98.40" y1="413.7" x2="98.40" y2="411.7" stroke="#606060" stroke-width="1"/>
<line x1="120.90" y1="413.7" x2="120.90" y2="411.7" stroke="#606060" stroke-width="1"/>
<line x1="143.40" y1="413.7" x2="143.40" y2="411.7" stroke="#606060" stroke-width="1"/>
<line x1="165.90" y1="413.7" x2="165.90" y2="411.7" stroke="#606060" stroke-width="1"/>
<text x="64.65" y="425.50" font-size="8.4" font-family='"Liberation Sans", sans-serif' font-weight="normal" text-anchor="middle" fill="#1a1a1a" textLength="4.3" lengthAdjust="spacingAndGlyphs" stroke="#1a1a1a" stroke-width="0.15">3</text>
<text x="87.15" y="425.50" font-size="8.4" font-family='"Liberation Sans", sans-serif' font-weight="normal" text-anchor="middle" fill="#1a1a1a" textLength="4.3" lengthAdjust="spacingAndGlyphs" stroke="#1a1a1a" stroke-width="0.15">8</text>
<text x="109.65" y="425.50" font-size="8.4" font-family='"Liberation Sans", sans-serif' font-weight="normal" text-anchor="middle" fill="#1a1a1a" textLength="8.6" lengthAdjust="spacingAndGlyphs" stroke="#1a1a1a" stroke-width="0.15">12</text>
<text x="132.15" y="425.50" font-size="8.4" font-family='"Liberation Sans", sans-serif' font-weight="normal" text-anchor="middle" fill="#1a1a1a" textLength="8.6" lengthAdjust="spacingAndGlyphs" stroke="#1a1a1a" stroke-width="0.15">24</text>
<text x="154.65" y="425.50" font-size="8.4" font-family='"Liberation Sans", sans-serif' font-weight="normal" text-anchor="middle" fill="#1a1a1a" textLength="8.6" lengthAdjust="spacingAndGlyphs" stroke="#1a1a1a" stroke-width="0.15">48</text>
<text x="177.15" y="425.50" font-size="8.4" font-family='"Liberation Sans", sans-serif' font-weight="normal" text-anchor="middle" fill="#1a1a1a" textLength="8.6" lengthAdjust="spacingAndGlyphs" stroke="#1a1a1a" stroke-width="0.15">72</text>
<path d="M64.65 406.22L87.15 388.78L109.65 386.91L132.15 378.81L154.65 373.83L177.15 372.58" fill="none" stroke="#333" stroke-width="1"/>
<path d="M64.65 404.52L66.35 406.22L64.65 407.92L62.95 406.22Z" fill="#111"/>
<path d="M87.15 387.08L88.85 388.78L87.15 390.48L85.45 388.78Z" fill="#111"/>
<path d="M109.65 385.21L111.35 386.91L109.65 388.61L107.95 386.91Z" fill="#111"/>
<path d="M132.15 377.11L133.85 378.81L132.15 380.51L130.45 378.81Z" fill="#111"/>
<path d="M154.65 372.13L156.35 373.83L154.65 375.53L152.95 373.83Z" fill="#111"/>
<path d="M177.15 370.88L178.85 372.58L177.15 374.28L175.45 372.58Z" fill="#111"/>
<path d="M64.65 406.22L87.15 385.66L109.65 373.20L132.15 369.78L154.65 362.61L177.15 357.32" fill="none" stroke="#333" stroke-width="1"/>
<rect x="62.45" y="404.02" width="4.4" height="4.4" fill="#111"/>
<rect x="84.95" y="383.46" width="4.4" height="4.4" fill="#111"/>
<rect x="107.45" y="371.00" width="4.4" height="4.4" fill="#111"/>
<rect x="129.95" y="367.58" width="4.4" height="4.4" fill="#111"/>
<rect x="152.45" y="360.41" width="4.4" height="4.4" fill="#111"/>
<rect x="174.95" y="355.12" width="4.4" height="4.4" fill="#111"/>
<text x="34.80" y="382.50" font-size="8.4" font-family='"Liberation Mono", monospace' font-weight="bold" text-anchor="middle" fill="#1a1a1a" textLength="23.3" lengthAdjust="spacingAndGlyphs" transform="rotate(-90 34.80 382.50)" >Ratio</text>
<text x="118.50" y="437.20" font-size="8.6" font-family='"Liberation Mono", monospace' font-weight="normal" text-anchor="middle" fill="#1a1a1a" textLength="72" lengthAdjust="spacingAndGlyphs" stroke="#1a1a1a" stroke-width="0.3">Time point(hour)</text>
<path d="M213.3 351.4H347.3V413.4" fill="none" stroke="#b0b0b0" stroke-width="1.2"/>
<path d="M213.3 351.4V413.4H347.3" fill="none" stroke="#686868" stroke-width="1.3"/>
<text x="209.90" y="417.00" font-size="8.4" font-family='"Liberation Sans", sans-serif' font-weight="normal" text-anchor="end" fill="#1a1a1a" textLength="4.2" lengthAdjust="spacingAndGlyphs" stroke="#1a1a1a" stroke-width="0.15">0</text>
<line x1="213.3" y1="403.07" x2="215.3" y2="403.07" stroke="#606060" stroke-width="1"/>
<text x="209.90" y="406.67" font-size="8.4" font-family='"Liberation Sans", sans-serif' font-weight="normal" text-anchor="end" fill="#1a1a1a" textLength="4.2" lengthAdjust="spacingAndGlyphs" stroke="#1a1a1a" stroke-width="0.15">2</text>
<line x1="213.3" y1="392.73" x2="215.3" y2="392.73" stroke="#606060" stroke-width="1"/>
<text x="209.90" y="396.33" font-size="8.4" font-family='"Liberation Sans", sans-serif' font-weight="normal" text-anchor="end" fill="#1a1a1a" textLength="4.2" lengthAdjust="spacingAndGlyphs" stroke="#1a1a1a" stroke-width="0.15">4</text>
<line x1="213.3" y1="382.40" x2="215.3" y2="382.40" stroke="#606060" stroke-width="1"/>
<text x="209.90" y="386.00" font-size="8.4" font-family='"Liberation Sans", sans-serif' font-weight="normal" text-anchor="end" fill="#1a1a1a" textLength="4.2" lengthAdjust="spacingAndGlyphs" stroke="#1a1a1a" stroke-width="0.15">6</text>
<line x1="213.3" y1="372.07" x2="215.3" y2="372.07" stroke="#606060" stroke-width="1"/>
<text x="209.90" y="375.67" font-size="8.4" font-family='"Liberation Sans", sans-serif' font-weight="normal" text-anchor="end" fill="#1a1a1a" textLength="4.2" lengthAdjust="spacingAndGlyphs" stroke="#1a1a1a" stroke-width="0.15">8</text>
<line x1="213.3" y1="361.73" x2="215.3" y2="361.73" stroke="#606060" stroke-width="1"/>
<text x="209.90" y="365.33" font-size="8.4" font-family='"Liberation Sans", sans-serif' font-weight="normal" text-anchor="end" fill="#1a1a1a" textLength="8.4" lengthAdjust="spacingAndGlyphs" stroke="#1a1a1a" stroke-width="0.15">10</text>
<text x="209.90" y="355.00" font-size="8.4" font-family='"Liberation Sans", sans-serif' font-weight="normal" text-anchor="end" fill="#1a1a1a" textLength="8.4" lengthAdjust="spacingAndGlyphs" stroke="#1a1a1a" stroke-width="0.15">12</text>
<line x1="235.63" y1="413.4" x2="235.63" y2="411.4" stroke="#606060" stroke-width="1"/>
<line x1="257.97" y1="413.4" x2="257.97" y2="411.4" stroke="#606060" stroke-width="1"/>
<line x1="280.30" y1="413.4" x2="280.30" y2="411.4" stroke="#606060" stroke-width="1"/>
<line x1="302.63" y1="413.4" x2="302.63" y2="411.4" stroke="#606060" stroke-width="1"/>
<line x1="324.97" y1="413.4" x2="324.97" y2="411.4" stroke="#606060" stroke-width="1"/>
<text x="224.47" y="425.20" font-size="8.4" font-family='"Liberation Sans", sans-serif' font-weight="normal" text-anchor="middle" fill="#1a1a1a" textLength="4.3" lengthAdjust="spacingAndGlyphs" stroke="#1a1a1a" stroke-width="0.15">3</text>
<text x="246.80" y="425.20" font-size="8.4" font-family='"Liberation Sans", sans-serif' font-weight="normal" text-anchor="middle" fill="#1a1a1a" textLength="4.3" lengthAdjust="spacingAndGlyphs" stroke="#1a1a1a" stroke-width="0.15">8</text>
<text x="269.13" y="425.20" font-size="8.4" font-family='"Liberation Sans", sans-serif' font-weight="normal" text-anchor="middle" fill="#1a1a1a" textLength="8.6" lengthAdjust="spacingAndGlyphs" stroke="#1a1a1a" stroke-width="0.15">12</text>
<text x="291.47" y="425.20" font-size="8.4" font-family='"Liberation Sans", sans-serif' font-weight="normal" text-anchor="middle" fill="#1a1a1a" textLength="8.6" lengthAdjust="spacingAndGlyphs" stroke="#1a1a1a" stroke-width="0.15">24</text>
<text x="313.80" y="425.20" font-size="8.4" font-family='"Liberation Sans", sans-serif' font-weight="normal" text-anchor="middle" fill="#1a1a1a" textLength="8.6" lengthAdjust="spacingAndGlyphs" stroke="#1a1a1a" stroke-width="0.15">48</text>
<text x="336.13" y="425.20" font-size="8.4" font-family='"Liberation Sans", sans-serif' font-weight="normal" text-anchor="middle" fill="#1a1a1a" textLength="8.6" lengthAdjust="spacingAndGlyphs" stroke="#1a1a1a" stroke-width="0.15">72</text>
<path d="M224.47 409.78L246.80 402.55L269.13 387.57L291.47 369.48L313.80 394.80L336.13 389.63" fill="none" stroke="#333" stroke-width="1"/>
<path d="M224.47 408.08L226.17 409.78L224.47 411.48L222.77 409.78Z" fill="#111"/>
<path d="M246.80 400.85L248.50 402.55L246.80 404.25L245.10 402.55Z" fill="#111"/>
<path d="M269.13 385.87L270.83 387.57L269.13 389.27L267.43 387.57Z" fill="#111"/>
<path d="M291.47 367.78L293.17 369.48L291.47 371.18L289.77 369.48Z" fill="#111"/>
<path d="M313.80 393.10L315.50 394.80L313.80 396.50L312.10 394.80Z" fill="#111"/>
<path d="M336.13 387.93L337.83 389.63L336.13 391.33L334.43 389.63Z" fill="#111"/>
<path d="M224.47 407.30L246.80 396.09L269.13 373.10L291.47 357.08L313.80 364.16L336.13 370.52" fill="none" stroke="#333" stroke-width="1"/>
<rect x="222.27" y="405.10" width="4.4" height="4.4" fill="#111"/>
<rect x="244.60" y="393.89" width="4.4" height="4.4" fill="#111"/>
<rect x="266.93" y="370.90" width="4.4" height="4.4" fill="#111"/>
<rect x="289.27" y="354.88" width="4.4" height="4.4" fill="#111"/>
<rect x="311.60" y="361.96" width="4.4" height="4.4" fill="#111"/>
<rect x="333.93" y="368.32" width="4.4" height="4.4" fill="#111"/>
<text x="280.10" y="437.20" font-size="8.6" font-family='"Liberation Mono", monospace' font-weight="normal" text-anchor="middle" fill="#1a1a1a" textLength="72.7" lengthAdjust="spacingAndGlyphs" stroke="#1a1a1a" stroke-width="0.3">Time point(hour)</text>
<path d="M378.3 351.4H509.5V413.7" fill="none" stroke="#b0b0b0" stroke-width="1.2"/>
<path d="M378.3 351.4V413.7H509.5" fill="none" stroke="#686868" stroke-width="1.3"/>
<text x="374.90" y="417.30" font-size="8.4" font-family='"Liberation Sans", sans-serif' font-weight="normal" text-anchor="end" fill="#1a1a1a" textLength="4.2" lengthAdjust="spacingAndGlyphs" stroke="#1a1a1a" stroke-width="0.15">0</text>
<line x1="378.3" y1="403.32" x2="380.3" y2="403.32" stroke="#606060" stroke-width="1"/>
<text x="374.90" y="406.92" font-size="8.4" font-family='"Liberation Sans", sans-serif' font-weight="normal" text-anchor="end" fill="#1a1a1a" textLength="14.2" lengthAdjust="spacingAndGlyphs" stroke="#1a1a1a" stroke-width="0.15">0. 1</text>
<line x1="378.3" y1="392.93" x2="380.3" y2="392.93" stroke="#606060" stroke-width="1"/>
<text x="374.90" y="396.53" font-size="8.4" font-family='"Liberation Sans", sans-serif' font-weight="normal" text-anchor="end" fill="#1a1a1a" textLength="14.2" lengthAdjust="spacingAndGlyphs" stroke="#1a1a1a" stroke-width="0.15">0. 2</text>
<line x1="378.3" y1="382.55" x2="380.3" y2="382.55" stroke="#606060" stroke-width="1"/>
<text x="374.90" y="386.15" font-size="8.4" font-family='"Liberation Sans", sans-serif' font-weight="normal" text-anchor="end" fill="#1a1a1a" textLength="14.2" lengthAdjust="spacingAndGlyphs" stroke="#1a1a1a" stroke-width="0.15">0. 3</text>
<line x1="378.3" y1="372.17" x2="380.3" y2="372.17" stroke="#606060" stroke-width="1"/>
<text x="374.90" y="375.77" font-size="8.4" font-family='"Liberation Sans", sans-serif' font-weight="normal" text-anchor="end" fill="#1a1a1a" textLength="14.2" lengthAdjust="spacingAndGlyphs" stroke="#1a1a1a" stroke-width="0.15">0. 4</text>
<line x1="378.3" y1="361.78" x2="380.3" y2="361.78" stroke="#606060" stroke-width="1"/>
<text x="374.90" y="365.38" font-size="8.4" font-family='"Liberation Sans", sans-serif' font-weight="normal" text-anchor="end" fill="#1a1a1a" textLength="14.2" lengthAdjust="spacingAndGlyphs" stroke="#1a1a1a" stroke-width="0.15">0. 5</text>
<text x="374.90" y="355.00" font-size="8.4" font-family='"Liberation Sans", sans-serif' font-weight="normal" text-anchor="end" fill="#1a1a1a" textLength="14.2" lengthAdjust="spacingAndGlyphs" stroke="#1a1a1a" stroke-width="0.15">0. 6</text>
<line x1="400.17" y1="413.7" x2="400.17" y2="411.7" stroke="#606060" stroke-width="1"/>
<line x1="422.03" y1="413.7" x2="422.03" y2="411.7" stroke="#606060" stroke-width="1"/>
<line x1="443.90" y1="413.7" x2="443.90" y2="411.7" stroke="#606060" stroke-width="1"/>
<line x1="465.77" y1="413.7" x2="465.77" y2="411.7" stroke="#606060" stroke-width="1"/>
<line x1="487.63" y1="413.7" x2="487.63" y2="411.7" stroke="#606060" stroke-width="1"/>
<text x="389.23" y="425.50" font-size="8.4" font-family='"Liberation Sans", sans-serif' font-weight="normal" text-anchor="middle" fill="#1a1a1a" textLength="4.3" lengthAdjust="spacingAndGlyphs" stroke="#1a1a1a" stroke-width="0.15">3</text>
<text x="411.10" y="425.50" font-size="8.4" font-family='"Liberation Sans", sans-serif' font-weight="normal" text-anchor="middle" fill="#1a1a1a" textLength="4.3" lengthAdjust="spacingAndGlyphs" stroke="#1a1a1a" stroke-width="0.15">8</text>
<text x="432.97" y="425.50" font-size="8.4" font-family='"Liberation Sans", sans-serif' font-weight="normal" text-anchor="middle" fill="#1a1a1a" textLength="8.6" lengthAdjust="spacingAndGlyphs" stroke="#1a1a1a" stroke-width="0.15">12</text>
<text x="454.83" y="425.50" font-size="8.4" font-family='"Liberation Sans", sans-serif' font-weight="normal" text-anchor="middle" fill="#1a1a1a" textLength="8.6" lengthAdjust="spacingAndGlyphs" stroke="#1a1a1a" stroke-width="0.15">24</text>
<text x="476.70" y="425.50" font-size="8.4" font-family='"Liberation Sans", sans-serif' font-weight="normal" text-anchor="middle" fill="#1a1a1a" textLength="8.6" lengthAdjust="spacingAndGlyphs" stroke="#1a1a1a" stroke-width="0.15">48</text>
<text x="498.57" y="425.50" font-size="8.4" font-family='"Liberation Sans", sans-serif' font-weight="normal" text-anchor="middle" fill="#1a1a1a" textLength="8.6" lengthAdjust="spacingAndGlyphs" stroke="#1a1a1a" stroke-width="0.15">72</text>
<path d="M389.23 395.01L411.10 387.74L432.97 380.47L454.83 381.51L476.70 382.86L498.57 361.78" fill="none" stroke="#333" stroke-width="1"/>
<path d="M389.23 393.31L390.93 395.01L389.23 396.71L387.53 395.01Z" fill="#111"/>
<path d="M411.10 386.04L412.80 387.74L411.10 389.44L409.40 387.74Z" fill="#111"/>
<path d="M432.97 378.77L434.67 380.47L432.97 382.17L431.27 380.47Z" fill="#111"/>
<path d="M454.83 379.81L456.53 381.51L454.83 383.21L453.13 381.51Z" fill="#111"/>
<path d="M476.70 381.16L478.40 382.86L476.70 384.56L475.00 382.86Z" fill="#111"/>
<path d="M498.57 360.08L500.27 361.78L498.57 363.48L496.87 361.78Z" fill="#111"/>
<path d="M389.23 403.94L411.10 395.22L432.97 387.74L454.83 391.06L476.70 395.22L498.57 370.09" fill="none" stroke="#333" stroke-width="1"/>
<rect x="387.03" y="401.74" width="4.4" height="4.4" fill="#111"/>
<rect x="408.90" y="393.02" width="4.4" height="4.4" fill="#111"/>
<rect x="430.77" y="385.54" width="4.4" height="4.4" fill="#111"/>
<rect x="452.63" y="388.86" width="4.4" height="4.4" fill="#111"/>
<rect x="474.50" y="393.02" width="4.4" height="4.4" fill="#111"/>
<rect x="496.37" y="367.89" width="4.4" height="4.4" fill="#111"/>
<text x="445.50" y="437.20" font-size="8.6" font-family='"Liberation Mono", monospace' font-weight="normal" text-anchor="middle" fill="#1a1a1a" textLength="74" lengthAdjust="spacingAndGlyphs" stroke="#1a1a1a" stroke-width="0.3">Time point(hour)</text>
<text x="13.00" y="207.50" font-size="13" font-family='"Liberation Serif", serif' font-weight="normal" text-anchor="start" fill="#111" >A</text>
<text x="13.00" y="297.30" font-size="13" font-family='"Liberation Serif", serif' font-weight="normal" text-anchor="start" fill="#111" >S</text>
<text x="1.20" y="386.80" font-size="13.8" font-family='"Liberation Serif", serif' font-weight="normal" text-anchor="start" fill="#111" textLength="22.6" lengthAdjust="spacingAndGlyphs" >A+S</text>
</svg></body></html>
